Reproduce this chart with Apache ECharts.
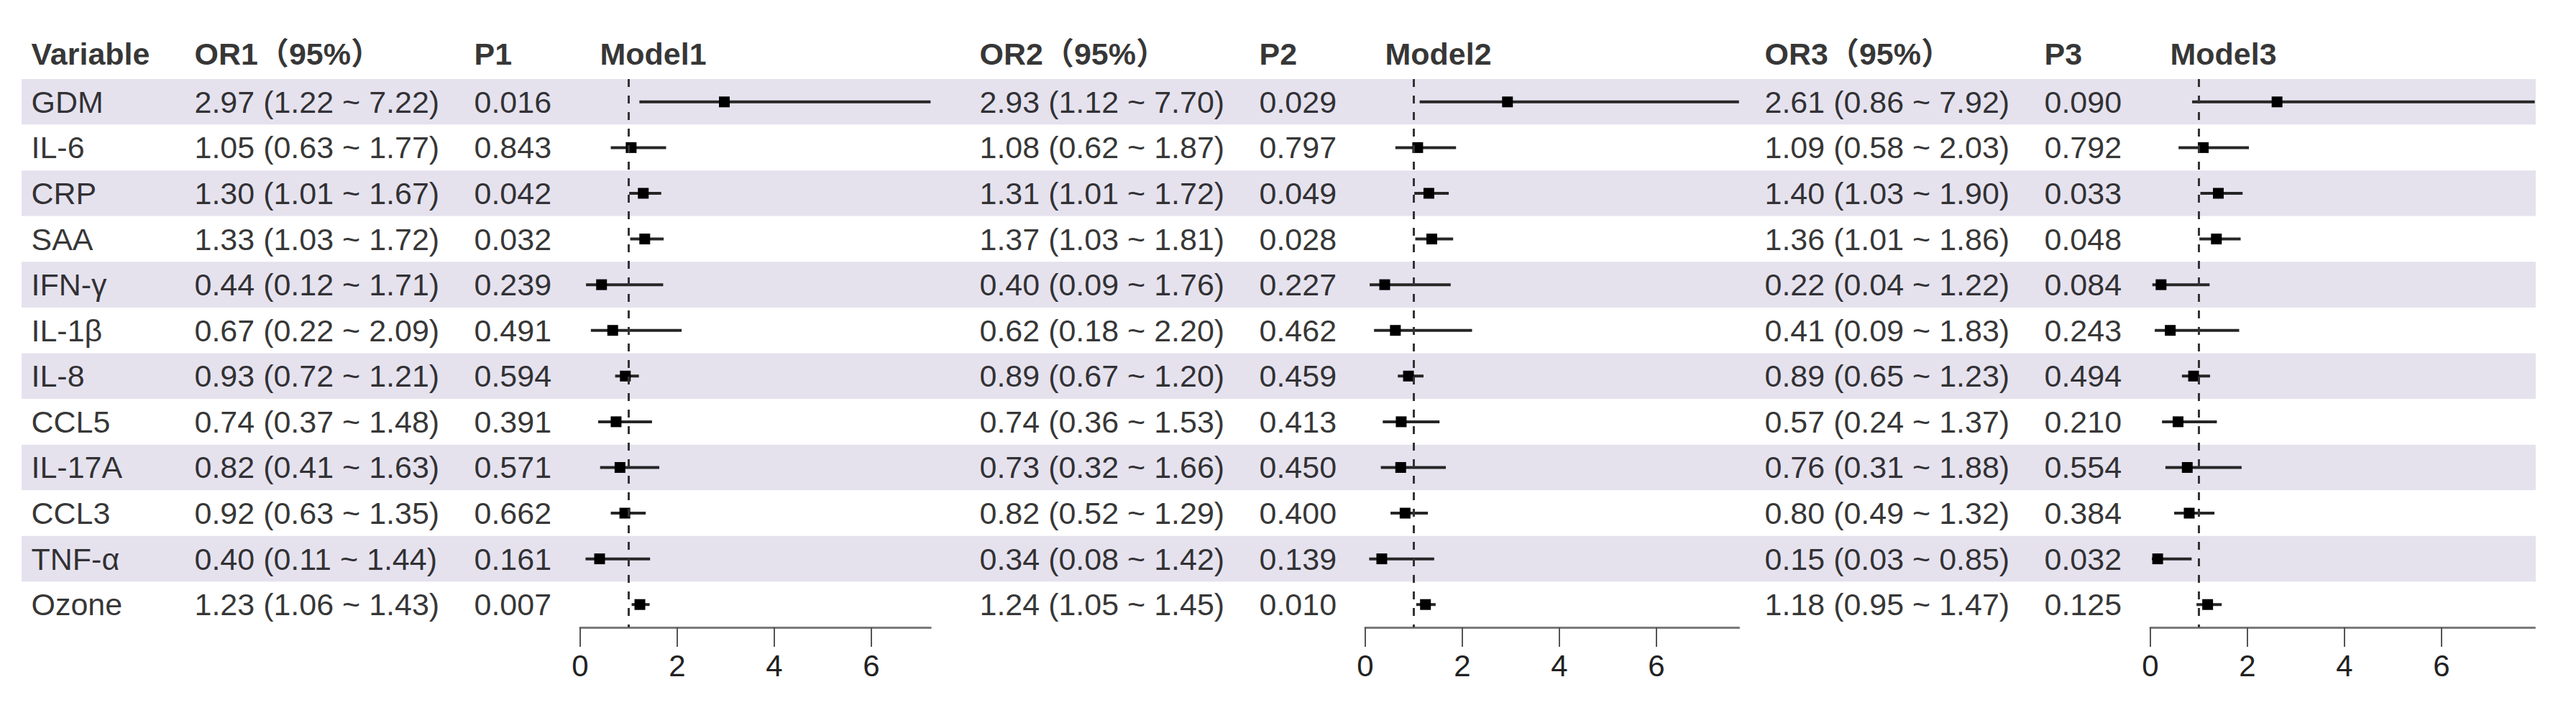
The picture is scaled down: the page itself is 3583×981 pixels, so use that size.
<!DOCTYPE html>
<html><head><meta charset="utf-8">
<script src="https://cdn.jsdelivr.net/npm/echarts@6/dist/echarts.min.js"></script>
<style>html,body{margin:0;padding:0;background:#fff}#c{width:3583px;height:981px}</style>
</head><body><div id="c"></div>
<script>
// ---------------- data ----------------
const variables = ['GDM','IL-6','CRP','SAA','IFN-γ','IL-1β','IL-8','CCL5','IL-17A','CCL3','TNF-α','Ozone'];
const or1 = [2.97,1.05,1.30,1.33,0.44,0.67,0.93,0.74,0.82,0.92,0.40,1.23];
const lo1 = [1.22,0.63,1.01,1.03,0.12,0.22,0.72,0.37,0.41,0.63,0.11,1.06];
const hi1 = [7.22,1.77,1.67,1.72,1.71,2.09,1.21,1.48,1.63,1.35,1.44,1.43];
const p1  = [0.016,0.843,0.042,0.032,0.239,0.491,0.594,0.391,0.571,0.662,0.161,0.007];
const or2 = [2.93,1.08,1.31,1.37,0.40,0.62,0.89,0.74,0.73,0.82,0.34,1.24];
const lo2 = [1.12,0.62,1.01,1.03,0.09,0.18,0.67,0.36,0.32,0.52,0.08,1.05];
const hi2 = [7.70,1.87,1.72,1.81,1.76,2.20,1.20,1.53,1.66,1.29,1.42,1.45];
const p2  = [0.029,0.797,0.049,0.028,0.227,0.462,0.459,0.413,0.450,0.400,0.139,0.010];
const or3 = [2.61,1.09,1.40,1.36,0.22,0.41,0.89,0.57,0.76,0.80,0.15,1.18];
const lo3 = [0.86,0.58,1.03,1.01,0.04,0.09,0.65,0.24,0.31,0.49,0.03,0.95];
const hi3 = [7.92,2.03,1.90,1.86,1.22,1.83,1.23,1.37,1.88,1.32,0.85,1.47];
const p3  = [0.090,0.792,0.033,0.048,0.084,0.243,0.494,0.210,0.554,0.384,0.032,0.125];
const orHeaders = ['OR1（95%）','OR2（95%）','OR3（95%）'];
const pHeaders = ['P1','P2','P3'];
const modelHeaders = ['Model1','Model2','Model3'];
const varHeader = 'Variable';
const xTicks = [0,2,4,6];
const refValue = 1;

// ---------------- layout / style ----------------
const tableLeft = 30, tableRight = 3527;
const tableTop = 110, tableHeight = 763;
const panelStep = 1092;
const colVar = 43, colOR = 270, colP = 659, colModel = 834, axisZero = 807;
const pxPerUnit = 67.5;
const FONT = '"Liberation Sans", Arial, "Noto Sans CJK SC", sans-serif';
const FS = 43;
const TXT = '#000000';
const BAND = '#e5e2ee';

const models = [
  {or: or1, lo: lo1, hi: hi1, p: p1},
  {or: or2, lo: lo2, hi: hi2, p: p2},
  {or: or3, lo: lo3, hi: hi3, p: p3}
];

const fmt2 = v => v.toFixed(2);
const grids = [], xAxes = [], yAxes = [], series = [];

// grid 0: table body (bands + text)
grids.push({left: tableLeft, top: tableTop, width: tableRight - tableLeft, height: tableHeight});
xAxes.push({type: 'value', gridIndex: 0, min: tableLeft, max: tableRight, show: false});
yAxes.push({type: 'category', gridIndex: 0, data: variables, inverse: true, show: true,
  axisLine: {show: false}, axisTick: {show: false}, axisLabel: {show: false}, splitLine: {show: false},
  splitArea: {show: true, interval: 0, areaStyle: {color: [BAND, '#ffffff']}}});

// grid 1: header row
grids.push({left: tableLeft, top: 42, width: tableRight - tableLeft, height: 66});
xAxes.push({type: 'value', gridIndex: 1, min: tableLeft, max: tableRight, show: false});
yAxes.push({type: 'category', gridIndex: 1, data: ['h'], show: false});

function textSeries(gridIdx, items, bold) {
  return {
    type: 'scatter', xAxisIndex: gridIdx, yAxisIndex: gridIdx, symbolSize: 1, silent: true,
    itemStyle: {color: 'rgba(0,0,0,0)'},
    label: {show: true, position: 'right', distance: 0, fontFamily: FONT, fontSize: FS,
      fontWeight: bold ? 'bold' : 'normal', color: TXT, formatter: p => p.data.txt},
    data: items
  };
}

// variable column
series.push(textSeries(0, variables.map((v, i) => ({value: [colVar, i], txt: v})), false));
const headerItems = [{value: [colVar, 0], txt: varHeader}];

models.forEach((m, k) => {
  const off = k * panelStep;
  series.push(textSeries(0, m.or.map((v, i) => ({value: [colOR + off, i],
    txt: fmt2(v) + ' (' + fmt2(m.lo[i]) + ' ~ ' + fmt2(m.hi[i]) + ')'})), false));
  series.push(textSeries(0, m.p.map((v, i) => ({value: [colP + off, i], txt: v.toFixed(3)})), false));
  headerItems.push({value: [colOR + off, 0], txt: orHeaders[k]});
  headerItems.push({value: [colP + off, 0], txt: pHeaders[k]});
  headerItems.push({value: [colModel + off, 0], txt: modelHeaders[k]});

  // forest grid
  const gi = grids.length;
  const maxHi = Math.max(...m.hi);
  grids.push({left: axisZero + off, top: tableTop, width: maxHi * pxPerUnit, height: tableHeight});
  xAxes.push({type: 'value', gridIndex: gi, min: 0, max: maxHi, position: 'bottom',
    splitLine: {show: false},
    axisLine: {show: true, lineStyle: {color: '#7a7a7a', width: 3}},
    axisTick: {show: true, inside: false, length: 27, customValues: xTicks, lineStyle: {color: '#555', width: 2}},
    axisLabel: {show: true, customValues: xTicks, margin: 32, fontFamily: FONT, fontSize: 42, color: '#222'}});
  yAxes.push({type: 'category', gridIndex: gi, data: variables, inverse: true, show: false});
  series.push({
    type: 'custom', xAxisIndex: gi, yAxisIndex: gi, silent: true,
    encode: {x: [1, 2, 3], y: 0},
    data: m.or.map((v, i) => [i, v, m.lo[i], m.hi[i]]),
    renderItem: (params, api) => {
      const row = api.value(0);
      const a = api.coord([api.value(2), row]);
      const b = api.coord([api.value(3), row]);
      const c = api.coord([api.value(1), row]);
      return {type: 'group', children: [
        {type: 'line', shape: {x1: a[0], y1: a[1], x2: b[0], y2: b[1]}, style: {stroke: '#262626', lineWidth: 4}},
        {type: 'rect', shape: {x: c[0] - 7.5, y: c[1] - 7.5, width: 15, height: 15}, style: {fill: '#000'}}
      ]};
    },
    markLine: {silent: true, symbol: 'none', label: {show: false},
      lineStyle: {type: [11, 12], color: '#333', width: 3},
      data: [{xAxis: refValue}]}
  });
});

series.push(textSeries(1, headerItems, true));

const chart = echarts.init(document.getElementById('c'), null, {renderer: 'svg'});
chart.setOption({
  backgroundColor: '#ffffff',
  animation: false,
  grid: grids, xAxis: xAxes, yAxis: yAxes, series: series
});
</script></body></html>
